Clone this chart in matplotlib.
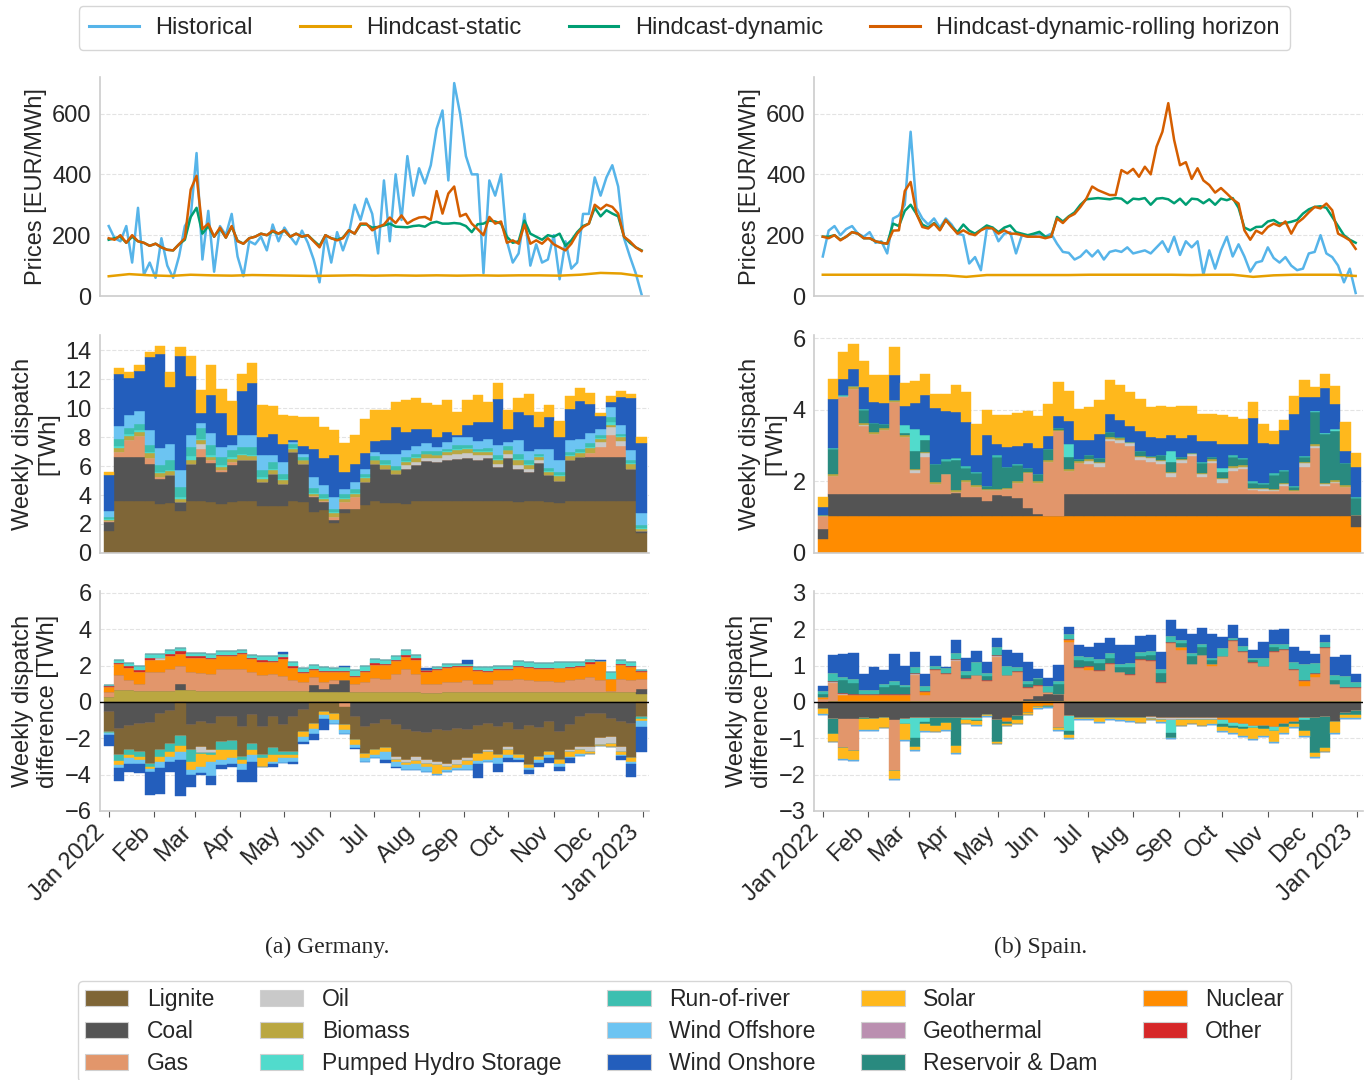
import numpy as np
import pandas as pd
import matplotlib
matplotlib.use('Agg')
import matplotlib.pyplot as plt
from matplotlib.patches import Patch
from matplotlib.lines import Line2D

plt.rcParams['font.family'] = ['Liberation Sans', 'DejaVu Sans']
plt.rcParams['font.size'] = 17
for k in ['text.color', 'axes.labelcolor', 'xtick.color', 'ytick.color']:
    plt.rcParams[k] = '#262626'

# ---------------- prices (every 4 days from 1 Jan 2022) ----------------
de_hist = [230, 190, 180, 230, 110, 290, 70, 110, 60, 190,
           100, 60, 130, 230, 260, 470, 120, 280, 80, 230,
           200, 270, 130, 65, 180, 170, 195, 150, 235, 180,
           225, 195, 170, 215, 175, 120, 45, 200, 110, 210,
           150, 205, 300, 250, 320, 270, 140, 380, 180, 400,
           250, 460, 330, 420, 370, 430, 550, 610, 380, 700,
           600, 460, 400, 400, 75, 380, 330, 400, 180, 110,
           140, 270, 100, 170, 110, 120, 200, 55, 180, 90,
           110, 270, 270, 390, 330, 390, 430, 360, 190, 130,
           75, 5]
de_dyn = [185, 190, 195, 175, 195, 180, 175, 165, 172, 160,
          152, 150, 170, 185, 260, 290, 205, 230, 195, 222,
          192, 228, 182, 172, 190, 195, 205, 200, 212, 205,
          215, 195, 205, 195, 200, 182, 165, 200, 190, 185,
          192, 216, 205, 235, 235, 225, 227, 232, 238, 228,
          227, 226, 230, 232, 228, 240, 244, 238, 238, 240,
          238, 230, 210, 236, 238, 248, 245, 238, 195, 175,
          180, 248, 205, 195, 185, 200, 195, 205, 165, 183,
          210, 230, 238, 290, 262, 282, 271, 262, 195, 175,
          160, 150]
de_roll = [190, 185, 200, 175, 200, 180, 175, 165, 172, 160,
           152, 150, 170, 190, 350, 395, 220, 238, 195, 225,
           192, 230, 180, 172, 190, 195, 205, 200, 215, 205,
           216, 195, 205, 195, 200, 180, 160, 200, 190, 183,
           190, 216, 205, 238, 238, 216, 227, 235, 258, 240,
           265, 238, 250, 258, 260, 250, 345, 271, 337, 360,
           262, 270, 238, 220, 200, 260, 238, 245, 175, 183,
           172, 235, 172, 183, 172, 190, 170, 160, 150, 172,
           205, 227, 238, 300, 285, 300, 293, 271, 195, 180,
           160, 148]
es_hist = [130, 215, 230, 200, 220, 230, 205, 195, 210, 175,
           180, 140, 255, 265, 300, 540, 290, 255, 235, 255,
           225, 255, 235, 205, 200, 107, 128, 85, 220, 225,
           180, 205, 210, 140, 200, 195, 200, 205, 195, 205,
           172, 145, 142, 120, 130, 150, 130, 150, 120, 145,
           150, 145, 160, 140, 145, 150, 140, 160, 180, 145,
           195, 135, 180, 160, 180, 70, 150, 90, 150, 195,
           130, 170, 130, 80, 110, 115, 160, 125, 110, 128,
           100, 85, 90, 140, 145, 200, 140, 128, 100, 45,
           90, 10]
es_dyn = [195, 195, 200, 185, 195, 210, 205, 190, 190, 180,
          175, 172, 238, 230, 280, 300, 270, 235, 225, 240,
          218, 250, 228, 210, 235, 215, 205, 218, 232, 225,
          210, 225, 232, 210, 205, 200, 205, 211, 195, 195,
          260, 245, 262, 275, 300, 318, 320, 322, 320, 318,
          322, 320, 305, 320, 318, 322, 300, 320, 322, 318,
          305, 320, 300, 320, 318, 305, 318, 300, 320, 315,
          322, 290, 225, 216, 227, 228, 245, 250, 238, 240,
          244, 250, 271, 285, 293, 295, 290, 260, 230, 200,
          185, 175]
es_roll = [195, 190, 200, 183, 195, 210, 205, 190, 190, 180,
           175, 172, 215, 216, 345, 375, 270, 227, 222, 238,
           216, 250, 227, 205, 216, 205, 200, 216, 225, 222,
           205, 216, 205, 205, 200, 195, 195, 195, 190, 195,
           255, 240, 260, 270, 293, 320, 360, 348, 340, 332,
           332, 414, 403, 418, 392, 425, 400, 491, 540, 634,
           513, 430, 440, 385, 420, 380, 365, 340, 355, 337,
           318, 304, 216, 185, 215, 205, 227, 238, 230, 245,
           205, 240, 255, 275, 293, 288, 304, 282, 205, 195,
           183, 155]
# static hindcast, every 14 days
de_static = [65, 72, 68, 66, 70, 68, 67, 69, 68, 67, 66, 67, 68, 67,
             68, 67, 68, 67, 68, 67, 68, 68, 67, 70, 76, 74, 65]
es_static = [70, 70, 70, 70, 70, 69, 68, 63, 69, 69, 69, 69, 69, 70,
             70, 70, 70, 70, 69, 70, 70, 63, 68, 70, 70, 70, 66]

# ---------------- weekly dispatch Germany [TWh] ----------------
de_lignite = [1.5, 3.56, 3.56, 3.56, 3.56, 3.37, 3.45, 2.93, 3.56, 3.56,
              3.5, 3.35, 3.5, 3.56, 3.56, 3.25, 3.25, 3.25, 3.56, 3.5,
              2.85, 2.95, 2.1, 2.75, 3.0, 3.3, 3.56, 3.45, 3.45, 3.4,
              3.56, 3.56, 3.56, 3.56, 3.56, 3.56, 3.56, 3.56, 3.56, 3.56,
              3.5, 3.56, 3.56, 3.5, 3.45, 3.56, 3.56, 3.56, 3.56, 3.56,
              3.56, 3.56, 1.35]
de_coal = [0.67, 3.04, 3.04, 3.04, 2.61, 1.76, 1.91, 0.57, 2.56, 3.07,
           2.7, 2.25, 2.55, 2.84, 2.84, 1.65, 2.22, 1.53, 3.41, 2.67,
           1.01, 0.55, 0.2, 0.3, 0.05, 1.6, 2.56, 2.32, 1.98, 2.42,
           2.49, 2.79, 2.72, 2.88, 2.95, 3.02, 2.84, 3.02, 2.38, 3.0,
           2.32, 2.03, 2.65, 1.86, 1.55, 2.84, 3.07, 3.07, 3.07, 3.07,
           3.07, 2.26, 0.15]
de_gas = [0.05, 0.37, 1.18, 1.46, 0.41, 0.11, 0, 0, 0, 0.57,
          0.2, 0.1, 0.23, 0, 0, 0, 0, 0, 0, 0,
          0.05, 0.1, 0.17, 0.45, 0.81, 0, 0, 0, 0, 0,
          0, 0, 0, 0, 0, 0, 0, 0, 0, 0,
          0, 0, 0, 0, 0, 0, 0, 0.3, 0.69, 1.5,
          0.74, 0, 0]
de_oil = [0, 0.03, 0.02, 0, 0, 0, 0, 0, 0, 0.35,
          0, 0, 0, 0, 0, 0, 0, 0, 0, 0,
          0, 0, 0, 0, 0, 0, 0, 0, 0, 0.23,
          0.23, 0.23, 0.26, 0.3, 0.35, 0.32, 0.34, 0.2, 0.23, 0.3,
          0.28, 0.23, 0.19, 0, 0, 0, 0, 0, 0.32, 0.57,
          0.37, 0, 0]
de_biomass = [0.08, 0.25, 0.28, 0.3, 0.32, 0.26, 0.29, 0.24, 0.32, 0.23,
              0.23, 0.24, 0.22, 0.34, 0.3, 0.23, 0.23, 0.28, 0.23, 0.23,
              0.18, 0.14, 0.28, 0.24, 0.23, 0.27, 0.28, 0.28, 0.27, 0.23,
              0.28, 0.23, 0.2, 0.23, 0.28, 0.26, 0.23, 0.19, 0.23, 0.23,
              0.3, 0.23, 0.23, 0.23, 0.29, 0.27, 0.27, 0.34, 0.25, 0.12,
              0.27, 0.35, 0.16]
de_pumped = [0.05, 0.1, 0.12, 0.1, 0.08, 0.08, 0.1, 0.11, 0.25, 0.12,
             0.1, 0.1, 0.1, 0.08, 0.08, 0.08, 0.08, 0.06, 0.06, 0.05,
             0.08, 0.06, 0.06, 0.06, 0.06, 0.06, 0.05, 0.06, 0.06, 0.06,
             0.05, 0.05, 0.05, 0.05, 0.05, 0.05, 0.05, 0.05, 0.06, 0.05,
             0.08, 0.06, 0.05, 0.06, 0.06, 0.06, 0.06, 0.06, 0.05, 0.2,
             0.05, 0.06, 0.06]
de_ror = [0.12, 0.55, 0.4, 0.44, 0.46, 0.47, 0.65, 0.7, 0.63, 0.7,
          0.71, 0.59, 0.5, 0.5, 0.52, 0.49, 0.5, 0.35, 0.29, 0.18,
          0.31, 0.24, 0.24, 0.29, 0.28, 0.24, 0.22, 0.29, 0.24, 0.29,
          0.25, 0.18, 0.23, 0.18, 0.25, 0.23, 0.18, 0.25, 0.28, 0.23,
          0.38, 0.29, 0.18, 0.24, 0.24, 0.24, 0.24, 0.24, 0.18, 0.33,
          0.14, 0.21, 0.18]
de_woff = [0.46, 0.85, 0.9, 0.9, 1.04, 1.2, 1.1, 1.15, 0.81, 0.34,
           0.81, 0.69, 0.34, 0.81, 0.83, 1.04, 0.46, 0.81, 0.12, 0.23,
           0.76, 0.62, 0.81, 0.34, 0.47, 0.3, 0.28, 0.41, 0.81, 0.46,
           0.51, 0.56, 0.3, 0.47, 0.53, 0.57, 0.54, 0.63, 0.7, 0.3,
           0.92, 0.64, 0.34, 1.31, 0.81, 0.81, 0.7, 0.74, 0.46, 0.75,
           0.62, 0.7, 0.87]
de_won = [2.43, 3.6, 2.6, 2.76, 5.02, 6.49, 3.98, 7.9, 4.11, 0.69,
          2.65, 2.36, 0.69, 3.07, 3.57, 1.26, 1.44, 1.27, 0.16, 0.51,
          1.96, 1.92, 2.88, 1.16, 1.27, 1.13, 0.76, 0.97, 1.89, 1.27,
          1.2, 0.97, 0.65, 0.67, 0.16, 0.81, 1.31, 1.13, 3.18, 0.9,
          1.97, 2.46, 1.5, 2.2, 1.61, 2.19, 2.6, 2.0, 0.86, 0.34,
          1.92, 3.58, 4.85]
de_solar = [0.21, 0.4, 0.4, 0.42, 0.4, 0.56, 1.02, 0.6, 1.36, 1.62,
            2.1, 1.62, 2.37, 1.16, 1.4, 2.2, 1.96, 1.95, 1.62, 2.03,
            2.15, 2.12, 1.74, 2.03, 1.96, 2.34, 2.15, 2.08, 1.74, 2.19,
            2.13, 1.8, 2.23, 2.21, 1.62, 1.73, 1.85, 1.41, 1.13, 1.33,
            0.95, 1.47, 1.05, 0.8, 1.11, 0.86, 0.86, 0.72, 0.22, 0.39,
            0.46, 0.28, 0.35]

# ---------------- weekly dispatch Spain [TWh] ----------------
es_nuclear = [0.39, 1.03, 1.03, 1.03, 1.03, 1.03, 1.03, 1.03, 1.03, 1.03,
              1.03, 1.03, 1.03, 1.03, 1.03, 1.03, 1.03, 1.03, 1.03, 1.03,
              1.03, 1.03, 1.03, 1.03, 1.03, 1.03, 1.03, 1.03, 1.03, 1.03,
              1.03, 1.03, 1.03, 1.03, 1.03, 1.03, 1.03, 1.03, 1.03, 1.03,
              1.03, 1.03, 1.03, 1.03, 1.03, 1.03, 1.03, 1.03, 1.03, 1.03,
              1.03, 1.03, 0.72]
es_coal = [0.29, 0.62, 0.62, 0.62, 0.62, 0.62, 0.62, 0.62, 0.62, 0.62,
           0.62, 0.62, 0.62, 0.65, 0.54, 0.54, 0.42, 0.59, 0.56, 0.52,
           0.23, 0.07, 0, 0, 0.62, 0.62, 0.62, 0.62, 0.62, 0.62,
           0.62, 0.62, 0.62, 0.62, 0.62, 0.62, 0.62, 0.62, 0.62, 0.62,
           0.62, 0.62, 0.62, 0.62, 0.62, 0.62, 0.62, 0.62, 0.62, 0.62,
           0.62, 0.62, 0.33]
es_gas = [0.35, 0.51, 2.71, 2.95, 1.89, 1.67, 1.8, 2.58, 1.59, 0.58,
          1.03, 0.29, 0.55, 0.03, 0.42, 0.28, 0.31, 0.14, 0.21, 0.41,
          0.98, 0.87, 1.52, 2.37, 0.65, 0.88, 0.84, 0.76, 1.47, 1.44,
          1.33, 0.95, 0.9, 0.83, 0.48, 0.86, 1.06, 0.48, 0.86, 0.31,
          0.65, 0.69, 0.11, 0.09, 0.09, 0.23, 0.09, 0.76, 1.28, 0.22,
          0.31, 0.2, 0]
es_oil = [0, 0, 0.02, 0, 0.05, 0, 0, 0, 0, 0.09,
          0.11, 0, 0, 0, 0, 0, 0, 0, 0, 0,
          0, 0, 0, 0, 0, 0, 0.08, 0.1, 0.07, 0.08,
          0.09, 0.08, 0.1, 0.09, 0.1, 0.09, 0.07, 0.08, 0.07, 0.1,
          0.09, 0.07, 0.04, 0.04, 0.01, 0.04, 0, 0.1, 0.07, 0.07,
          0.03, 0, 0]
es_biomass = [0.02, 0.04, 0.02, 0.07, 0.04, 0.05, 0.05, 0.04, 0.06, 0.04,
              0.04, 0.05, 0.02, 0.04, 0.05, 0.05, 0.03, 0.02, 0.03, 0.04,
              0.03, 0.03, 0.04, 0.04, 0.04, 0.04, 0.05, 0.03, 0.05, 0.04,
              0.04, 0.03, 0.04, 0.04, 0.03, 0.04, 0.03, 0.03, 0.04, 0.03,
              0.04, 0.04, 0.03, 0.03, 0.05, 0.03, 0.03, 0.03, 0.05, 0.03,
              0.04, 0.05, 0.02]
es_reservoir = [0, 0.71, 0, 0, 0.36, 0.26, 0.1, 0, 0.05, 0.49,
                0.32, 0.49, 0.36, 0.85, 0.35, 0.33, 0.09, 0.91, 0.58, 0.46,
                0.12, 0.2, 0.33, 0.05, 0.35, 0.05, 0.12, 0.11, 0.14, 0.03,
                0, 0.14, 0.02, 0.13, 0.29, 0.05, 0, 0.27, 0.07, 0.18,
                0.25, 0.17, 0.13, 0.13, 0.38, 0.34, 0.08, 0.15, 0.89, 1.35,
                1.39, 0.61, 0.47]
es_pumped = [0, 0, 0, 0, 0, 0, 0, 0, 0.23, 0.61,
             0.15, 0, 0, 0.03, 0, 0, 0, 0, 0, 0,
             0, 0, 0, 0, 0.36, 0, 0, 0, 0, 0,
             0, 0, 0, 0, 0.31, 0, 0, 0, 0, 0.11,
             0, 0, 0, 0, 0, 0, 0, 0, 0.04, 0.03,
             0.04, 0, 0]
es_ror = [0, 0.04, 0.02, 0, 0.04, 0, 0, 0, 0, 0,
          0, 0.02, 0.04, 0.04, 0.04, 0.03, 0, 0.05, 0, 0.03,
          0, 0, 0, 0, 0, 0, 0, 0, 0, 0,
          0, 0, 0, 0, 0, 0, 0, 0.03, 0, 0,
          0.05, 0.04, 0.04, 0.03, 0.05, 0.04, 0.03, 0.02, 0, 0,
          0, 0, 0.03]
es_won = [0.24, 1.37, 0.45, 0.47, 0.6, 0.6, 0.6, 0.7, 0.52, 0.74,
          1.13, 1.56, 1.34, 1.26, 1.22, 0.48, 1.42, 0.31, 0.55, 0.49,
          0.68, 0.75, 0.34, 0.35, 0.63, 0.54, 0.41, 0.68, 0.52, 0.49,
          0.45, 0.55, 0.53, 0.47, 0.45, 0.52, 0.5, 0.58, 0.43, 0.67,
          0.32, 0.39, 1.77, 1.1, 0.82, 1.12, 2.02, 1.66, 0.39, 1.27,
          0.7, 0.33, 0.84]
es_solar = [0.28, 0.56, 0.75, 0.7, 0.73, 0.74, 0.77, 0.79, 0.66, 0.6,
            0.59, 0.4, 0.5, 0.76, 0.85, 0.86, 0.71, 0.82, 0.91, 0.94,
            0.89, 0.89, 0.92, 0.94, 0.86, 0.87, 0.93, 0.96, 0.95, 0.97,
            0.94, 0.91, 0.84, 0.91, 0.77, 0.89, 0.81, 0.78, 0.78, 0.8,
            0.75, 0.71, 0.46, 0.55, 0.35, 0.28, 0.5, 0.48, 0.27, 0.38,
            0.51, 0.83, 0.4]

# ---------------- weekly dispatch difference Germany [TWh] ----------------
dd_biomass = [0.27, 0.64, 0.64, 0.6, 0.6, 0.6, 0.6, 0.64, 0.64, 0.62,
              0.6, 0.6, 0.6, 0.6, 0.6, 0.6, 0.6, 0.6, 0.6, 0.6,
              0.55, 0.55, 0.55, 0.55, 0.55, 0.55, 0.55, 0.55, 0.55, 0.55,
              0.55, 0.5, 0.5, 0.55, 0.55, 0.55, 0.55, 0.55, 0.55, 0.55,
              0.55, 0.55, 0.55, 0.55, 0.55, 0.55, 0.55, 0.55, 0.55, 0.55,
              0.55, 0.55, 0.45]
dd_coal = [-0.55, -1.47, -1.3, -1.23, -1.15, -0.64, -0.5, 0.36, -1.28, -1.1,
           -1.19, -0.82, -0.82, -1.37, -0.73, -1.37, -0.82, -1.28, -0.82, -0.46,
           0.37, 0.18, 0.45, 0.64, -0.82, -1.37, -1.23, -1.0, -1.28, -1.56,
           -1.65, -1.7, -1.56, -1.59, -1.47, -1.52, -1.34, -1.19, -1.37, -1.15,
           -1.56, -1.34, -1.41, -1.1, -1.65, -1.28, -0.82, -0.64, -0.68, -0.92,
           -1.1, -1.23, 0.28]
dd_gas = [0.28, 0.83, 0.55, 0.37, 1.05, 1.05, 1.23, 0.96, 1.01, 0.97,
          0.96, 1.23, 1.23, 1.23, 1.05, 0.9, 0.92, 0.81, 0.59, 0.5,
          0.45, 0.37, 0.19, -0.27, 0.45, 0.55, 0.79, 0.73, 1.01, 1.28,
          0.97, 0.47, 0.47, 0.55, 0.55, 0.64, 0.45, 0.45, 0.64, 0.64,
          0.73, 0.64, 0.6, 0.58, 0.55, 0.68, 0.73, 0.82, 0.64, 0.05,
          0.73, 0.64, 0.55]
dd_lignite = [-1.1, -1.46, -1.36, -1.52, -2.24, -2.02, -1.79, -1.9, -1.38, -1.4,
              -1.47, -1.38, -1.34, -1.65, -1.56, -1.56, -1.74, -1.47, -1.93, -1.19,
              -1.19, -0.55, -0.64, -1.01, -1.28, -1.47, -1.43, -1.56, -1.74, -1.64,
              -1.37, -1.47, -1.74, -1.8, -1.73, -1.59, -1.5, -1.47, -1.56, -1.32,
              -1.37, -2.14, -1.61, -1.65, -1.55, -1.38, -1.65, -1.83, -1.33, -1.0,
              -1.37, -1.88, -0.82]
dd_nuclear = [0.27, 0.6, 0.7, 0.68, 0.68, 0.68, 0.68, 0.66, 0.79, 0.85,
              0.82, 0.68, 0.68, 0.79, 0.73, 0.7, 0.68, 0.97, 0.7, 0.51,
              0.37, 0.55, 0.46, 0.46, 0.37, 0.55, 0.71, 0.73, 0.69, 0.64,
              0.81, 0.68, 0.77, 0.79, 0.82, 0.73, 0.7, 0.65, 0.55, 0.55,
              0.64, 0.7, 0.68, 0.7, 0.74, 0.66, 0.64, 0.73, 1.06, 0.68,
              0.73, 0.73, 0.37]
dd_oil = [0, 0, 0, 0, 0, 0.06, 0, 0, 0, -0.3,
          -0.14, 0, 0, 0, 0, 0, 0, 0, 0, 0,
          0, 0, 0, 0, 0, 0, 0, 0, -0.15, -0.15,
          -0.22, -0.22, -0.18, -0.18, -0.28, -0.13, 0, -0.1, 0, -0.19,
          0, 0, 0, 0, 0, -0.08, -0.19, -0.28, -0.37, -0.41,
          -0.28, 0, 0]
dd_other = [0.05, 0.07, 0.07, 0.13, 0.11, 0.05, 0.15, 0.16, 0.06, 0.06,
            0.06, 0.09, 0.09, 0.09, 0.04, 0.09, 0.05, 0.09, 0.09, 0.05,
            0.05, 0.05, 0.05, 0.05, 0.08, 0.05, 0.07, 0.05, 0.05, 0.09,
            0.07, 0.09, 0.05, 0.05, 0.05, 0.05, 0.05, 0.05, 0.05, 0.05,
            0.05, 0.05, 0.05, 0.05, 0.05, 0.05, 0.05, 0.09, 0, 0,
            0.05, 0.05, 0.03]
dd_pumped = [0.08, 0.19, 0.2, 0.2, 0.22, 0.22, 0.18, 0.21, 0.19, 0.19,
             0.22, 0.18, 0.2, 0.13, 0.14, 0.22, 0.26, 0.19, 0.22, 0.23,
             0.22, 0.22, 0.19, 0.22, 0.33, 0.26, 0.26, 0.27, 0.21, 0.32,
             0.16, 0, 0.13, 0.13, 0.13, 0.1, 0.17, 0.22, 0.17, 0.17,
             0.28, 0.26, 0.26, 0.26, 0.31, 0.26, 0.23, 0.1, 0, 0.37,
             0.23, 0.23, 0.1]
dd_ror = [-0.05, -0.31, -0.27, -0.27, -0.18, -0.36, -0.46, -0.55, -0.64, -0.05,
          -0.1, -0.46, -0.46, -0.18, -0.37, -0.15, -0.37, -0.18, -0.18, 0,
          0, 0, 0, 0, 0, 0, 0, 0, 0, 0,
          0, 0, 0, 0, 0, 0, 0, 0, 0, 0,
          0, 0, 0, 0, 0, 0, 0, 0, 0, 0,
          0, 0, -0.1]
dd_solar = [-0.03, -0.24, -0.18, -0.18, -0.1, -0.28, -0.27, -0.3, -0.45, -0.75,
            -0.4, -0.54, -0.49, -0.19, -0.27, -0.49, -0.37, -0.18, -0.18, -0.27,
            -0.28, -0.18, -0.36, -0.28, -0.28, -0.27, -0.27, -0.19, -0.13, -0.13,
            -0.15, -0.18, -0.46, -0.15, -0.18, -0.24, -0.4, -0.41, -0.18, -0.27,
            -0.18, -0.18, -0.18, -0.18, -0.19, -0.28, -0.18, -0.09, -0.06, -0.14,
            -0.18, -0.19, -0.12]
dd_woff = [-0.1, -0.18, -0.28, -0.19, -0.18, -0.36, -0.28, -0.45, -0.28, -0.3,
           -0.78, -0.28, -0.28, -0.36, -0.37, 0, -0.14, -0.24, -0.19, -0.28,
           -0.27, -0.19, -0.23, -0.18, -0.18, -0.19, -0.13, -0.45, -0.27, -0.27,
           -0.36, -0.28, -0.09, -0.13, -0.09, -0.24, -0.15, -0.13, -0.28, -0.18,
           -0.09, -0.09, -0.15, -0.18, -0.21, -0.09, -0.15, 0, 0, 0,
           -0.05, -0.09, -0.33]
dd_won = [-0.61, -0.7, -0.46, -0.51, -1.25, -1.41, -0.55, -1.95, -0.64, -0.1,
          -0.5, -0.22, -0.18, -0.65, -1.13, 0, -0.13, 0.09, -0.09, -0.13,
          -0.36, -0.64, 0, 0.08, -0.05, 0, 0, -0.15, -0.09, 0,
          0, 0.15, 0, 0, 0, 0.23, -0.82, 0, -0.46, -0.19,
          -0.1, -0.19, -0.22, -0.24, -0.2, -0.24, 0, 0, 0.08, 0,
          -0.22, -0.73, -1.38]

# ---------------- weekly dispatch difference Spain [TWh] ----------------
sd_biomass = [0.01, 0.03, 0.03, 0.03, 0.03, 0.03, 0.03, 0.03, 0.03, 0.03,
              0.03, 0.03, 0.03, 0.03, 0.03, 0.03, 0.03, 0.03, 0.03, 0.03,
              0.03, 0.03, 0.03, 0.03, 0.03, 0.03, 0.03, 0.03, 0.03, 0.03,
              0.03, 0.03, 0.03, 0.03, 0.03, 0.03, 0.03, 0.03, 0.03, 0.03,
              0.03, 0.03, 0.03, 0.03, 0.03, 0.03, 0.03, 0.03, 0.03, 0.03,
              0.03, 0.03, 0.03]
sd_coal = [-0.2, -0.48, -0.48, -0.48, -0.43, -0.48, -0.43, -0.5, -0.48, -0.43,
           -0.45, -0.45, -0.45, -0.45, -0.45, -0.45, -0.35, -0.5, -0.45, -0.4,
           0.05, 0.12, 0.18, 0.18, -0.4, -0.45, -0.45, -0.45, -0.45, -0.45,
           -0.45, -0.45, -0.42, -0.45, -0.45, -0.45, -0.45, -0.45, -0.45, -0.45,
           -0.45, -0.45, -0.45, -0.45, -0.45, -0.45, -0.45, -0.45, -0.45, -0.42,
           -0.55, -0.3, -0.25]
sd_gas = [0.07, 0.49, -0.78, -0.87, 0, 0, 0, -1.4, 0, 0.72,
          0.15, 0.85, 0.75, 1.1, 0.6, 0.7, 0.55, 1.2, 0.7, 0.8,
          0.3, 0.3, 0.05, -0.72, 1.62, 0.9, 0.85, 0.82, 1.02, 0.78,
          0.72, 1.12, 1.1, 0.5, 1.6, 1.4, 1.0, 1.25, 0.95, 1.22,
          1.65, 1.35, 1.05, 0.95, 1.35, 1.4, 0.85, 0.4, 0.65, 1.45,
          0.45, 0.35, 0.35]
sd_nuclear = [0.05, 0, 0.17, 0.17, 0.17, 0.17, 0.17, 0.17, 0.17, 0,
              0.1, 0, 0, 0, 0, 0, 0, 0, -0.1, 0,
              -0.3, -0.15, -0.1, 0, 0.05, 0, 0.08, 0, 0, 0,
              0, 0, 0, 0, 0, 0.07, 0, 0, 0.05, -0.05,
              -0.12, -0.15, -0.2, -0.2, -0.25, -0.15, -0.1, 0.15, 0.1, 0,
              0, 0, 0]
sd_oil = [0, 0.03, 0.02, 0, 0, 0, 0, 0, 0, 0.03,
          0, 0, 0, 0.03, 0, 0, 0, 0.03, 0, 0,
          0, 0, 0, 0, 0, 0, 0, 0, 0, 0,
          0, 0, -0.05, -0.05, -0.05, -0.05, -0.05, -0.05, -0.05, 0,
          0, 0, 0, 0, 0, 0, 0, 0, 0, 0,
          0, 0, 0]
sd_other = [0.01, 0.02, 0.02, 0.02, 0.02, 0.02, 0.02, 0.02, 0.02, 0.02,
            0.02, 0.02, 0.02, 0.02, 0.02, 0.02, 0.02, 0.02, 0.02, 0.02,
            0.02, 0.02, 0.02, 0.02, 0.02, 0.02, 0.02, 0.02, 0.02, 0.02,
            0.02, 0.02, 0.02, 0.02, 0.02, 0.02, 0.02, 0.02, 0.02, 0.02,
            0.02, 0.02, 0.02, 0.02, 0.02, 0.02, 0.02, 0.02, 0.02, 0.02,
            0.02, 0.02, 0.02]
sd_pumped = [0, 0, 0, 0, 0, 0, 0, 0, -0.12, -0.55,
             -0.1, 0, 0, 0, -0.05, -0.05, 0, 0, 0, 0,
             0, 0, 0, 0, -0.4, 0, 0, 0, 0, 0,
             0, 0, 0, 0, -0.35, 0, 0, 0, 0, -0.1,
             -0.08, -0.1, -0.08, 0, -0.1, 0, 0, -0.05, 0, 0,
             0, 0, 0]
sd_reservoir = [0.07, -0.39, 0.35, 0.3, -0.05, 0, 0.2, 0.25, 0.2, -0.25,
                -0.05, -0.2, -0.12, -0.75, 0.1, -0.03, 0.1, -0.6, -0.05, -0.1,
                0.1, 0.15, -0.05, 0.25, -0.12, 0.2, 0.15, 0.2, 0.15, 0.12,
                0.2, 0.1, 0.15, 0.25, -0.15, 0.1, 0.2, 0.2, 0.1, -0.1,
                -0.08, -0.05, 0.05, -0.1, 0.1, -0.1, -0.05, -0.3, -0.95, -0.85,
                0.1, -0.05, -0.1]
sd_ror = [0.1, 0.22, 0.1, 0.1, 0.12, 0.12, 0.08, 0.1, 0.05, 0.15,
          0.15, 0.1, 0.12, 0.17, 0.1, 0.35, 0.1, 0.22, 0.25, 0.1,
          0.08, 0.05, 0.15, 0.1, 0.15, 0.1, 0.1, 0.1, 0.12, 0.08,
          0.1, 0.1, 0.1, 0.1, 0.15, 0.08, 0.1, 0.1, 0.05, 0.2,
          0.07, 0.15, 0.05, 0.2, 0.1, 0.15, 0.2, 0.45, 0.28, 0.15,
          0.15, 0.3, 0.15]
sd_solar = [-0.14, -0.22, -0.32, -0.26, -0.3, -0.3, -0.28, -0.23, -0.45, -0.1,
            -0.2, -0.17, -0.2, -0.2, -0.1, -0.1, -0.05, -0.05, -0.05, -0.1,
            -0.05, -0.03, 0, -0.05, -0.08, -0.02, -0.03, -0.1, -0.03, -0.05,
            -0.08, -0.12, -0.02, -0.05, 0, -0.15, -0.1, -0.15, -0.12, -0.1,
            -0.12, -0.2, -0.3, -0.2, -0.3, -0.15, -0.1, -0.15, -0.12, -0.1,
            -0.3, -0.1, -0.1]
sd_woff = [-0.02, -0.02, -0.02, -0.02, -0.02, -0.02, -0.02, -0.02, -0.02, -0.02,
           -0.02, -0.02, -0.02, -0.02, -0.02, -0.02, -0.02, -0.02, -0.02, -0.02,
           -0.02, -0.02, -0.02, -0.02, -0.02, -0.02, -0.02, -0.02, -0.02, -0.02,
           -0.02, -0.02, -0.02, -0.02, -0.02, -0.02, -0.02, -0.02, -0.02, -0.02,
           -0.02, -0.02, -0.02, -0.02, -0.02, -0.02, -0.02, -0.02, -0.02, -0.02,
           -0.02, -0.02, -0.02]
sd_won = [0.13, 0.51, 0.62, 0.72, 0.44, 0.63, 0.37, 0.74, 0.52, 0.43,
          0.31, 0.25, 0.05, 0.35, 0.35, 0.31, 0.3, 0.26, 0.43, 0.39,
          0.53, 0.23, 0.22, 0.43, 0.2, 0.32, 0.29, 0.46, 0.42, 0.54,
          0.5, 0.45, 0.44, 0.48, 0.45, 0.3, 0.52, 0.43, 0.67, 0.32,
          0.35, 0.22, 0.22, 0.45, 0.38, 0.4, 0.42, 0.36, 0.23, 0.19,
          0.49, 0.59, 0.23]

COL = {
    'Lignite': '#7f6637', 'Coal': '#545454', 'Gas': '#e2966b',
    'Oil': '#c9c9c9', 'Biomass': '#baa741', 'Pumped Hydro Storage': '#51dbcc',
    'Run-of-river': '#3dbfb0', 'Wind Offshore': '#6cc4f2', 'Wind Onshore': '#235ebc',
    'Solar': '#ffb81c', 'Geothermal': '#ba8fb0', 'Reservoir & Dam': '#298a7f',
    'Nuclear': '#ff8c00', 'Other': '#d62728',
}
LINE_COL = {'Historical': '#56b4e9', 'Hindcast-static': '#e69f00',
            'Hindcast-dynamic': '#009e73', 'Hindcast-dynamic-rolling horizon': '#d55e00'}

days = pd.date_range('2022-01-01', periods=92, freq='4D')
days_static = pd.date_range('2022-01-01', periods=27, freq='14D')
weeks = pd.date_range('2022-01-01', periods=53, freq='7D')

de_disp = {'Lignite': de_lignite, 'Coal': de_coal, 'Gas': de_gas, 'Oil': de_oil,
           'Biomass': de_biomass, 'Pumped Hydro Storage': de_pumped,
           'Run-of-river': de_ror, 'Wind Offshore': de_woff,
           'Wind Onshore': de_won, 'Solar': de_solar}
es_disp = {'Nuclear': es_nuclear, 'Coal': es_coal, 'Gas': es_gas, 'Oil': es_oil,
           'Biomass': es_biomass, 'Reservoir & Dam': es_reservoir,
           'Pumped Hydro Storage': es_pumped, 'Run-of-river': es_ror,
           'Wind Onshore': es_won, 'Solar': es_solar}
de_diff = {'Biomass': dd_biomass, 'Coal': dd_coal, 'Gas': dd_gas, 'Lignite': dd_lignite,
           'Nuclear': dd_nuclear, 'Oil': dd_oil, 'Other': dd_other,
           'Pumped Hydro Storage': dd_pumped, 'Run-of-river': dd_ror, 'Solar': dd_solar,
           'Wind Offshore': dd_woff, 'Wind Onshore': dd_won}
es_diff = {'Biomass': sd_biomass, 'Coal': sd_coal, 'Gas': sd_gas, 'Nuclear': sd_nuclear,
           'Oil': sd_oil, 'Other': sd_other, 'Pumped Hydro Storage': sd_pumped,
           'Reservoir & Dam': sd_reservoir, 'Run-of-river': sd_ror, 'Solar': sd_solar,
           'Wind Offshore': sd_woff, 'Wind Onshore': sd_won}


def stack(ax, data):
    bottom = np.zeros(len(weeks))
    for name, vals in data.items():
        v = np.array(vals, dtype=float)
        ax.bar(weeks, v, width=7, bottom=bottom, color=COL[name],
               edgecolor=COL[name], linewidth=0.3)
        bottom += v


def stack_signed(ax, data):
    pos_b = np.zeros(len(weeks))
    neg_b = np.zeros(len(weeks))
    for name, vals in data.items():
        v = np.array(vals, dtype=float)
        p = np.where(v > 0, v, 0)
        n = np.where(v < 0, v, 0)
        ax.bar(weeks, p, width=7, bottom=pos_b, color=COL[name],
               edgecolor=COL[name], linewidth=0.3)
        ax.bar(weeks, n, width=7, bottom=neg_b, color=COL[name],
               edgecolor=COL[name], linewidth=0.3)
        pos_b += p
        neg_b += n
    ax.axhline(0, color='black', lw=1.0, zorder=5)


def style(ax, bottom_row):
    for s in ['top', 'right']:
        ax.spines[s].set_visible(False)
    for s in ['left', 'bottom']:
        ax.spines[s].set_color('#cccccc')
        ax.spines[s].set_linewidth(1.2)
    ax.grid(axis='y', ls='--', color='#e3e3e3', lw=0.8)
    ax.set_axisbelow(True)
    ax.tick_params(axis='y', length=0, pad=6)
    if bottom_row:
        ax.tick_params(axis='x', length=4, color='#555555', width=0.8)
    else:
        ax.tick_params(axis='x', length=0, labelbottom=False)


fig = plt.figure(figsize=(13.69, 10.8), dpi=100)
lefts = [0.073, 0.5946]
W = 0.401
rows = [(0.7259, 0.2028), (0.4880, 0.2019), (0.2491, 0.2037)]
xlim = (pd.Timestamp('2021-12-26'), pd.Timestamp('2023-01-05'))
months = pd.date_range('2022-01-01', '2023-01-01', freq='MS')
mlabels = ['Jan 2022', 'Feb', 'Mar', 'Apr', 'May', 'Jun', 'Jul', 'Aug',
           'Sep', 'Oct', 'Nov', 'Dec', 'Jan 2023']

countries = [
    (de_hist, de_static, de_dyn, de_roll, de_disp, de_diff, (0, 15.05), range(0, 15, 2),
     (-6, 6.1), range(-6, 7, 2)),
    (es_hist, es_static, es_dyn, es_roll, es_disp, es_diff, (0, 6.1), range(0, 7, 2),
     (-3, 3.05), range(-3, 4, 1)),
]

for c, (hist, stat, dyn, roll, disp, diff, ylim2, yt2, ylim3, yt3) in enumerate(countries):
    ax1 = fig.add_axes([lefts[c], rows[0][0], W, rows[0][1]])
    ax2 = fig.add_axes([lefts[c], rows[1][0], W, rows[1][1]], sharex=ax1)
    ax3 = fig.add_axes([lefts[c], rows[2][0], W, rows[2][1]], sharex=ax1)

    ax1.plot(days, hist, color=LINE_COL['Historical'], lw=1.8)
    ax1.plot(days_static, stat, color=LINE_COL['Hindcast-static'], lw=1.8)
    ax1.plot(days, dyn, color=LINE_COL['Hindcast-dynamic'], lw=1.8)
    ax1.plot(days, roll, color=LINE_COL['Hindcast-dynamic-rolling horizon'], lw=1.8)
    ax1.set_ylim(0, 720)
    ax1.set_yticks([0, 200, 400, 600])
    ax1.set_ylabel('Prices [EUR/MWh]')

    stack(ax2, disp)
    ax2.set_ylim(*ylim2)
    ax2.set_yticks(list(yt2))
    ax2.set_ylabel('Weekly dispatch\n[TWh]')

    stack_signed(ax3, diff)
    ax3.set_ylim(*ylim3)
    ax3.set_yticks(list(yt3))
    ax3.set_ylabel('Weekly dispatch\ndifference [TWh]')

    ax1.set_xlim(*xlim)
    for ax, last in [(ax1, False), (ax2, False), (ax3, True)]:
        style(ax, last)
    ax3.set_xticks(months)
    ax3.set_xticklabels(mlabels, rotation=45, ha='right')

# legends
lhandles = [Line2D([0], [0], color=col, lw=2.2) for col in LINE_COL.values()]
fig.legend(lhandles, list(LINE_COL.keys()), loc='upper center',
           bbox_to_anchor=(0.5, 0.994), ncol=4, fontsize=17, frameon=True,
           edgecolor='#cccccc', handlelength=2.1, handletextpad=0.7,
           columnspacing=2.0, borderpad=0.45, borderaxespad=0, fancybox=True)

leg_order = ['Lignite', 'Coal', 'Gas', 'Oil', 'Biomass', 'Pumped Hydro Storage',
             'Run-of-river', 'Wind Offshore', 'Wind Onshore', 'Solar', 'Geothermal',
             'Reservoir & Dam', 'Nuclear', 'Other']
phandles = [Patch(facecolor=COL[n], edgecolor='#d0d0d0', linewidth=0.8) for n in leg_order]
fig.legend(phandles, leg_order, loc='upper center', bbox_to_anchor=(0.5, 0.0917),
           ncol=5, fontsize=16.5, frameon=True, edgecolor='#cccccc',
           handlelength=1.9, handleheight=0.7, handletextpad=0.8,
           columnspacing=2.0, labelspacing=0.4, borderpad=0.3, borderaxespad=0)

fig.text(0.239, 0.123, '(a) Germany.', family='Liberation Serif', fontsize=17,
         ha='center', va='center')
fig.text(0.760, 0.123, '(b) Spain.', family='Liberation Serif', fontsize=17,
         ha='center', va='center')

fig.savefig('out.png', dpi=100)
